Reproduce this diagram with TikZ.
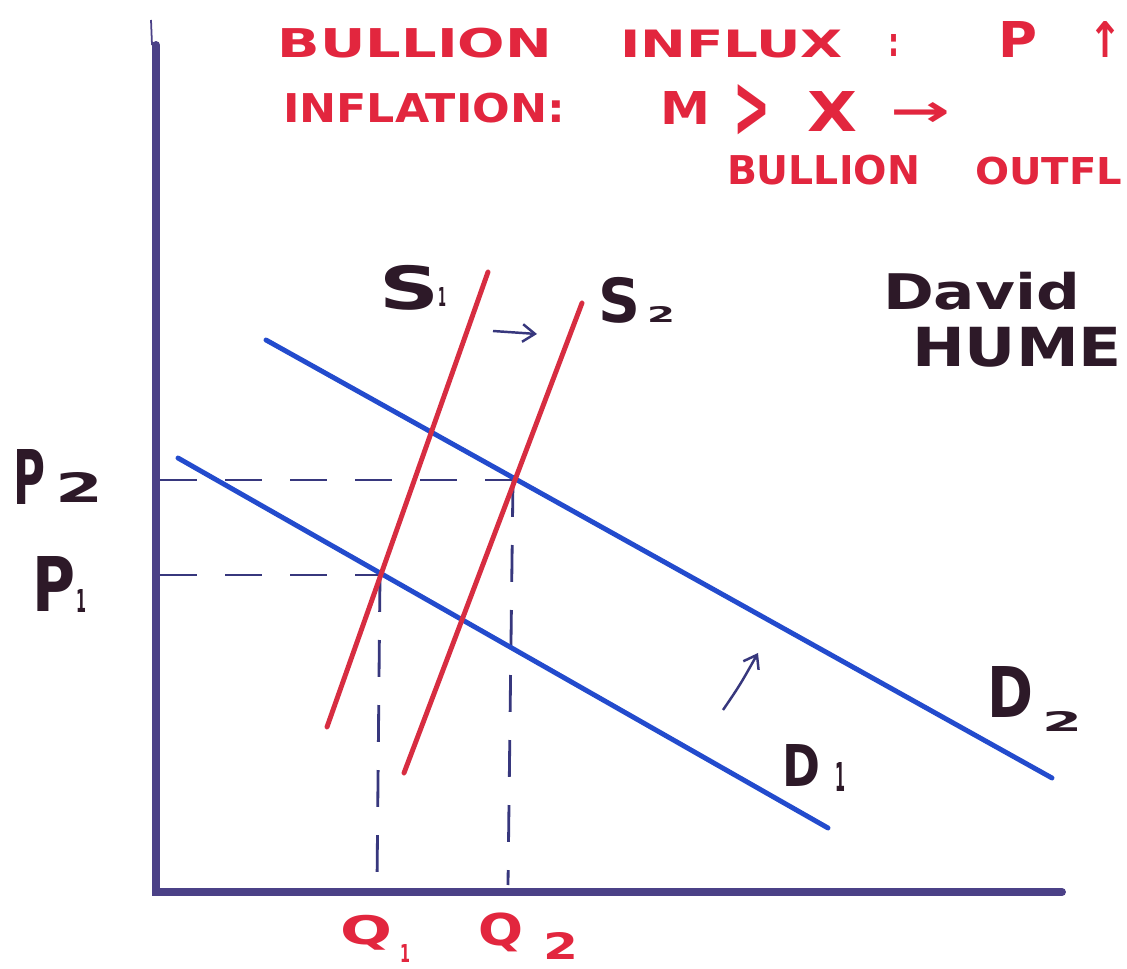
\documentclass[tikz,border=0pt]{standalone}
\usepackage{fontspec}
\setmainfont{DejaVu Sans}
\usetikzlibrary{arrows.meta}
\definecolor{mred}{RGB}{226,38,62}
\definecolor{mblue}{RGB}{35,75,205}
\definecolor{mink}{RGB}{45,25,40}
\definecolor{maxis}{RGB}{75,65,135}
\definecolor{mdash}{RGB}{55,55,125}
\definecolor{mline}{RGB}{215,45,65}
\tikzset{
  hand/.style={inner sep=0pt, outer sep=0pt, font=\bfseries},
  redtxt/.style={hand, text=mred},
  inktxt/.style={hand, text=mink},
  axisline/.style={draw=maxis, line width=4.5pt, line cap=round},
  guide/.style={draw=mdash, line width=1.6pt, dash pattern=on 21pt off 16pt},
  demand/.style={draw=mblue, line width=2.8pt, line cap=round},
  supply/.style={draw=mline, line width=2.8pt, line cap=round},
  shiftarrow/.style={draw=mdash, line width=1.4pt, -{Straight Barb[length=7pt,width=10pt]}}
}
% #1 name, #2 x1, #3 y1, #4 x2, #5 y2, #6 text, #7 style
\newcommand\hw[7]{%
  \pgfmathsetlengthmacro\hwW{(#4-#2)*0.569055}%
  \pgfmathsetlengthmacro\hwH{(#5-#3)*0.569055}%
  \node[#7] (#1) at ({(#2+#4)/2},{(#3+#5)/2}) {\resizebox*{\hwW}{\hwH}{#6}};}
\begin{document}
\begin{tikzpicture}[x=0.02cm, y=-0.02cm]
\fill[white] (0,0) rectangle (1127,969);
\useasboundingbox (0,0) rectangle (1127,969);
\clip (0,0) rectangle (1127,969);

% top red text
\hw{t1}{278}{28}{552}{58}{BULLION}{redtxt}
\hw{t2}{620}{30}{843}{58}{INFLUX}{redtxt}
\hw{t3}{888}{35}{899}{57}{:}{redtxt}
\hw{t4}{998}{22}{1037}{58}{P}{redtxt}
\hw{t5}{1088}{22}{1122}{58}{↑}{redtxt}
\hw{t6}{283}{93}{565}{123}{INFLATION:}{redtxt}
\hw{t7}{660}{92}{710}{125}{M}{redtxt}
\hw{t8}{733}{85}{770}{138}{>}{redtxt}
\hw{t9}{807}{92}{857}{132}{X}{redtxt}
\hw{t10}{890}{103}{950}{127}{→}{redtxt}
\hw{t11}{727}{155}{920}{185}{BULLION}{redtxt}
\hw{t12}{975}{157}{1122}{185}{OUTFL}{redtxt}

% axes
\coordinate (ytop) at (156,45);
\coordinate (orig) at (156,892);
\coordinate (xend) at (1062,892);
\draw[draw=maxis, line width=1pt] (151,20) -- (152,45);
\draw[axisline] (ytop) -- (orig) -- (xend);

% guides
\coordinate (e2) at (513,480);
\coordinate (e1) at (380,575);
\coordinate (p2l) at (160,480);
\coordinate (p1l) at (160,575);
\coordinate (q2b) at (508,885);
\coordinate (q1b) at (377,885);
\draw[guide] (p2l) -- (e2);
\draw[guide] (e2) -- (q2b);
\draw[guide] (p1l) -- (e1);
\draw[guide] (e1) -- (q1b);

% demand curves
\coordinate (d1a) at (178,458);
\coordinate (d1b) at (828,828);
\coordinate (d2a) at (266,340);
\coordinate (d2b) at (1052,778);
\draw[demand] (d1a) -- (d1b);
\draw[demand] (d2a) -- (d2b);

% supply curves
\coordinate (s1a) at (327,727);
\coordinate (s1b) at (488,272);
\coordinate (s2a) at (404,773);
\coordinate (s2b) at (582,303);
\draw[supply] (s1a) -- (s1b);
\draw[supply] (s2a) -- (s2b);

% shift arrows
\coordinate (sa1) at (493,331);
\coordinate (sa2) at (537,334);
\draw[shiftarrow] (sa1) -- (sa2);
\coordinate (da1) at (723,710);
\coordinate (da2) at (758,653);
\draw[shiftarrow] (da1) .. controls (740,685) .. (da2);

% labels
\hw{s1S}{380}{265}{440}{310}{S}{inktxt}
\hw{s1n}{438}{288}{446}{307}{1}{inktxt}
\hw{s2S}{598}{277}{640}{323}{S}{inktxt}
\hw{s2n}{647}{307}{675}{323}{2}{inktxt}
\hw{dav}{883}{272}{1080}{310}{David}{inktxt}
\hw{hum}{912}{327}{1122}{367}{HUME}{inktxt}
\hw{p2P}{13}{450}{45}{505}{P}{inktxt}
\hw{p2n}{55}{473}{103}{503}{2}{inktxt}
\hw{p1P}{32}{557}{75}{612}{P}{inktxt}
\hw{p1n}{76}{590}{86}{613}{1}{inktxt}
\hw{d2D}{987}{667}{1033}{718}{D}{inktxt}
\hw{d2n}{1042}{712}{1082}{732}{2}{inktxt}
\hw{d1D}{782}{745}{820}{787}{D}{inktxt}
\hw{d1n}{835}{763}{845}{792}{1}{inktxt}
\hw{q1Q}{340}{915}{392}{950}{Q}{redtxt}
\hw{q1n}{400}{945}{410}{963}{1}{redtxt}
\hw{q2Q}{478}{913}{523}{952}{Q}{redtxt}
\hw{q2n}{543}{933}{578}{960}{2}{redtxt}
\end{tikzpicture}
\end{document}
